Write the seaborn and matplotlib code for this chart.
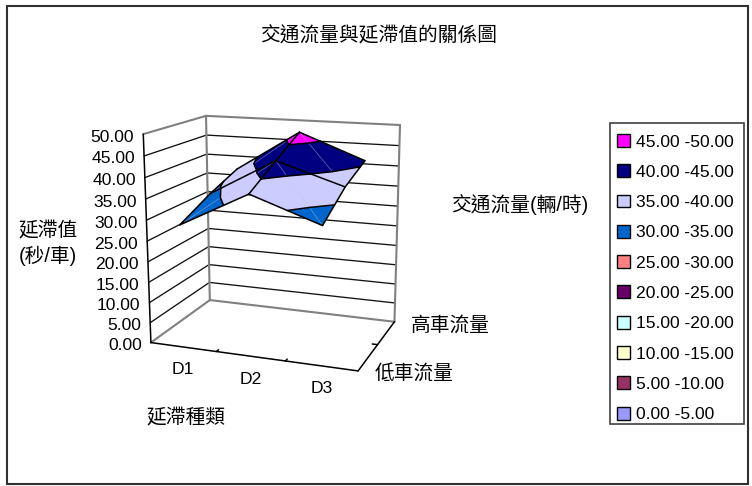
import numpy as np
import pandas as pd
import seaborn as sns
import matplotlib
matplotlib.use("Agg")
import matplotlib.pyplot as plt
from matplotlib.patches import Patch, Rectangle

# Delay by delay type, one list per traffic-flow level
categories = ["D1", "D2", "D3"]
delay_low = [29.6, 38.0, 32.3]
delay_mid = [33.5, 42.6, 37.5]
delay_high = [36.6, 47.0, 40.8]

z_levels = [0, 5, 10, 15, 20, 25, 30, 35, 40, 45, 50]
band_labels = ["0.00 -5.00", "5.00 -10.00", "10.00 -15.00", "15.00 -20.00", "20.00 -25.00",
               "25.00 -30.00", "30.00 -35.00", "35.00 -40.00", "40.00 -45.00", "45.00 -50.00"]
band_colors = ["#9999FF", "#993366", "#FFFFCC", "#CCFFFF", "#660066",
               "#FF8080", "#0066CC", "#CCCCFF", "#000080", "#FF00FF"]

W, H = 752, 486
sns.set_theme(style="white")
plt.rcParams["font.family"] = ["Liberation Sans", "Noto Sans CJK TC"]
plt.rcParams["axes.unicode_minus"] = False

fig = plt.figure(figsize=(W / 100, H / 100), dpi=100)
ax = fig.add_axes([0, 0, 1, 1])

# Perspective camera fitted to the corners of the plot box
box_world = np.array([[0, 0, 0], [1, 0, 0], [1, 1, 0], [0, 1, 0],
                      [0, 0, 1], [0, 1, 1], [1, 1, 1]], float)
box_screen = np.array([[150.7, 342.3], [358.3, 371.0], [394.3, 321.7], [210.0, 300.3],
                       [143.3, 134.3], [206.0, 115.7], [400.0, 125.0]])
rows = []
for (wx, wy, wz), (sx, sy) in zip(box_world, box_screen):
    rows.append([wx, wy, wz, 1, 0, 0, 0, 0, -sx * wx, -sx * wy, -sx * wz, -sx])
    rows.append([0, 0, 0, 0, wx, wy, wz, 1, -sy * wx, -sy * wy, -sy * wz, -sy])
camera = np.linalg.svd(np.array(rows))[2][-1].reshape(3, 4)


def project(x, y, z):
    """Screen position of a box point; z is in delay units."""
    p = camera @ np.array([x, y, z / z_levels[-1], 1.0])
    return p[0] / p[2], p[1] / p[2]


def segments_frame(segments):
    """Long-form table of projected 3D segments for seaborn."""
    records = []
    for k, (a, b) in enumerate(segments):
        for point in (a, b):
            sx, sy = project(*point)
            records.append({"sx": sx, "sy": sy, "seg": k})
    return pd.DataFrame(records)


def draw_lines(segments, color, width, alpha=1.0, order=3):
    sns.lineplot(data=segments_frame(segments), x="sx", y="sy", units="seg", estimator=None,
                 sort=False, color=color, linewidth=width, alpha=alpha, legend=False, ax=ax,
                 zorder=order)


# Walls, floor and axes of the box
top = z_levels[-1]
wall_grid = []
for z in z_levels[1:-1]:
    wall_grid += [((0, 0, z), (0, 1, z)), ((0, 1, z), (1, 1, z))]
frame_edges = [((0, 1, 0), (0, 1, top)), ((1, 1, 0), (1, 1, top)),
               ((0, 1, top), (1, 1, top)), ((0, 0, top), (0, 1, top)),
               ((0, 0, 0), (0, 1, 0)), ((0, 1, 0), (1, 1, 0))]
axis_edges = [((0, 0, 0), (0, 0, top)), ((0, 0, 0), (1, 0, 0)), ((1, 0, 0), (1, 1, 0))]
axis_edges += [((i / 3, 0, 0), (i / 3, 0.035, 0)) for i in (1, 2)]
axis_edges += [((1, 0.5, 0), (0.975, 0.5, 0))]
draw_lines(wall_grid, "#111111", 0.95, order=1)
draw_lines(frame_edges, "#808080", 1.5, order=1)
draw_lines(axis_edges, "black", 1.1, order=2)

# Surface nodes: categories sit mid-bin, flow levels span the depth
values = np.array([delay_low, delay_mid, delay_high])
node_x = [(i + 0.5) / len(categories) for i in range(len(categories))]
node_y = [j / (len(values) - 1) for j in range(len(values))]
node = lambda i, j: (node_x[i], node_y[j], values[j, i])

triangles = []
diagonals = []
for j in (1, 0):
    for i in range(len(categories) - 1):
        # Diagonals alternate so the cells form a diamond around the centre
        if i == 0:
            triangles += [(node(i, j + 1), node(i + 1, j + 1), node(i, j)),
                          (node(i + 1, j + 1), node(i + 1, j), node(i, j))]
            diagonals.append((node(i, j), node(i + 1, j + 1)))
        else:
            triangles += [(node(i, j + 1), node(i + 1, j + 1), node(i + 1, j)),
                          (node(i, j + 1), node(i + 1, j), node(i, j))]
            diagonals.append((node(i, j + 1), node(i + 1, j)))


def clip_band(poly, low, high):
    """Clip a 3D polygon to the slab low <= z <= high."""
    for bound, sign in ((low, 1), (high, -1)):
        kept = []
        for k, a in enumerate(poly):
            b = poly[(k + 1) % len(poly)]
            da, db = sign * (a[2] - bound), sign * (b[2] - bound)
            if da >= 0:
                kept.append(a)
            if da * db < 0:
                t = da / (da - db)
                kept.append(tuple(a[m] + t * (b[m] - a[m]) for m in range(3)))
        poly = kept
        if not poly:
            return []
    return poly


contours = []
for tri in triangles:
    for b, color in enumerate(band_colors):
        piece = clip_band(list(tri), z_levels[b], z_levels[b + 1])
        if len(piece) >= 3:
            xy = [project(*p) for p in piece]
            ax.fill(*zip(*xy), facecolor=color, edgecolor=color, linewidth=0.3, zorder=4)
    for level in z_levels[1:-1]:
        hits = []
        for k in range(3):
            a, c = tri[k], tri[(k + 1) % 3]
            if (a[2] - level) * (c[2] - level) < 0:
                t = (level - a[2]) / (c[2] - a[2])
                hits.append(tuple(a[m] + t * (c[m] - a[m]) for m in range(3)))
        if len(hits) == 2:
            contours.append(tuple(hits))

mesh = []
for j in range(len(node_y)):
    for i in range(len(node_x) - 1):
        mesh.append((node(i, j), node(i + 1, j)))
for i in range(len(node_x)):
    for j in range(len(node_y) - 1):
        mesh.append((node(i, j), node(i, j + 1)))
draw_lines(diagonals, "#C8C8E8", 0.5, alpha=0.45, order=5)
draw_lines(contours, "black", 1.1, order=6)
draw_lines(mesh, "black", 1.1, order=6)

# Tick labels follow the projected axes
text_size = 12.6
cjk_size = 14.2
for z in z_levels:
    sx, sy = project(0, 0, z)
    ax.text(sx - 9, sy + 3, f"{z:.2f}", ha="right", va="center", fontsize=text_size, color="black", zorder=7)
for x, name in zip(node_x, categories):
    sx, sy = project(x, 0, 0)
    ax.text(sx, sy + 23, name, ha="center", va="center", fontsize=text_size, color="black", zorder=7)
sx, sy = project(1, 0, 0)
ax.text(sx + 17, sy + 3, "低車流量", ha="left", va="center", fontsize=cjk_size, color="black", zorder=7)
sx, sy = project(1, 1, 0)
ax.text(sx + 16, sy + 3, "高車流量", ha="left", va="center", fontsize=cjk_size, color="black", zorder=7)

ax.text(379, 36, "交通流量與延滯值的關係圖", ha="center", va="center", fontsize=cjk_size, color="black")
ax.text(48, 244, "延滯值\n(秒/車)", ha="center", va="center", fontsize=cjk_size, color="black", linespacing=1.35)
ax.text(186, 418, "延滯種類", ha="center", va="center", fontsize=cjk_size, color="black")
ax.text(520, 205, "交通流量(輛/時)", ha="center", va="center", fontsize=cjk_size, color="black")

# Chart frame and legend box
ax.add_patch(Rectangle((7, 6), 741, 478, fill=False, edgecolor="#303030", linewidth=1.5, zorder=0))
ax.add_patch(Rectangle((610, 123), 134, 301, facecolor="white", edgecolor="#404040", linewidth=1.2, zorder=0))
handles = [Patch(facecolor=c, edgecolor="black", linewidth=1.0, label=l)
           for c, l in zip(band_colors[::-1], band_labels[::-1])]
legend = ax.legend(handles=handles, loc="upper left", bbox_to_anchor=(610 / W, 1 - 127 / H),
                   bbox_transform=ax.transAxes, borderaxespad=0, frameon=False, fontsize=text_size,
                   handlelength=0.75, handleheight=0.75, handletextpad=0.35, labelspacing=0.845,
                   borderpad=0.4, labelcolor="black")

ax.set_xlim(0, W)
ax.set_ylim(H, 0)
ax.axis("off")
fig.savefig("out.png", dpi=100, facecolor="white")
